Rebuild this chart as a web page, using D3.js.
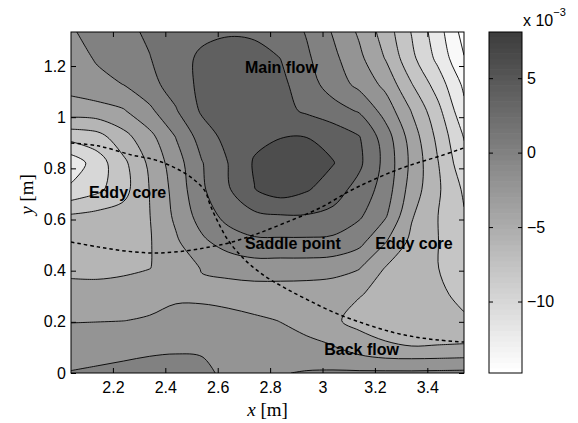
<!DOCTYPE html>
<html>
<head>
<meta charset="utf-8">
<script src="https://cdn.jsdelivr.net/npm/d3@7"></script>
<style>
  body { margin: 0; background: #fff; }
  text { font-family: "Liberation Sans", Arial, Helvetica, sans-serif; }
</style>
</head>
<body>
<svg id="chart" width="578" height="423"></svg>
<script>
// ---- grid coordinates (m) ----
const xGrid = [2.04, 2.14, 2.24, 2.34, 2.44, 2.54, 2.64, 2.74, 2.84, 2.94, 3.04, 3.14, 3.24, 3.34, 3.44, 3.54];
const yGrid = [1.333, 1.231, 1.128, 1.026, 0.923, 0.820, 0.718, 0.615, 0.513, 0.410, 0.308, 0.205, 0.103, 0];

// ---- field values (x 1e-3), one row per yGrid entry, top row first ----
const row00 = [-0.2, 0.7, 1.5, 2.3, 2.9, 3.5, 3.8, 3.6, 3.3, 1.85, -0.15, -2.3, -4.9, -8.1, -11.1, -14.8];
const row01 = [-1.0, 0.23, 1.08, 1.93, 3.14, 4.4, 4.9, 4.9, 3.98, 2.32, 0.5, -1.52, -4.1, -7.5, -10.5, -13.9];
const row02 = [-1.3, -0.65, 0.02, 1.37, 2.9, 4.5, 5.0, 5.0, 4.5, 2.86, 1.12, -0.53, -2.53, -5.9, -8.9, -12.4];
const row03 = [-2.9, -2.74, -2.17, -0.43, 1.83, 4.3, 5.0, 5.2, 4.6, 3.7, 2.8, 1.8, -0.8, -4.1, -7.4, -11.5];
const row04 = [-7.3, -6.8, -4.7, -2.6, 0.05, 2.9, 4.7, 5.5, 5.9, 5.95, 5.3, 4.1, 1.0, -2.9, -6.5, -10.1];
const row05 = [-11.3, -9.0, -6.5, -3.6, -0.9, 1.9, 4.02, 6.2, 7.6, 8.0, 6.1, 4.4, 1.4, -2.5, -5.9, -9.4];
const row06 = [-9.6, -8.5, -6.7, -3.95, -1.3, 1.7, 3.8, 5.95, 7.0, 6.2, 4.9, 3.3, 1.1, -2.9, -5.7, -8.3];
const row07 = [-5.8, -5.4, -5.2, -4.05, -1.6, 0.9, 2.7, 3.6, 3.9, 3.9, 3.5, 2.3, 0.25, -3.8, -5.98, -7.85];
const row08 = [-5.1, -4.8, -4.5, -4.15, -2.3, -0.4, 0.9, 1.6, 1.6, 1.6, 1.5, 0.6, -1.9, -4.5, -5.95, -7.7];
const row09 = [-4.4, -4.3, -4.3, -4.05, -3.0, -1.9, -1.4, -1.0, -1.0, -1.0, -1.2, -1.9, -4.1, -5.0, -5.95, -7.4];
const row10 = [-3.4, -3.6, -3.3, -2.6, -2.4, -2.4, -2.9, -3.0, -3.0, -3.1, -3.3, -3.9, -4.5, -5.0, -5.7, -6.4];
const row11 = [-2.1, -2.07, -2.02, -1.85, -1.3, -1.3, -1.2, -1.7, -2.05, -2.7, -3.7, -4.6, -4.7, -5.0, -5.3, -5.8];
const row12 = [-1.0, -0.8, -0.6, -0.4, -0.3, -0.3, -0.6, -0.9, -1.3, -1.5, -1.9, -3.0, -3.8, -3.97, -3.9, -3.76];
const row13 = [0.1, 0.3, 0.5, 0.7, 0.8, 0.5, -0.5, -0.4, -0.1, 0.15, 0.25, 0.3, 0.35, 0.35, 0.4, 0.45];
const fieldRows = [row00, row01, row02, row03, row04, row05, row06, row07, row08, row09, row10, row11, row12, row13];

// ---- contour levels, colour limits, ticks ----
const levels = [-14, -12, -10, -8, -6, -4, -2, 0, 2, 4, 6];
const colorLimits = [-14.8, 8.1];
const colorTicks = [-10, -5, 0, 5];
const xLim = [2.04, 3.54];
const yLim = [0, 1.333];
const xTicks = [2.2, 2.4, 2.6, 2.8, 3, 3.2, 3.4];
const yTicks = [0, 0.2, 0.4, 0.6, 0.8, 1, 1.2];

// ---- dividing streamlines (dashed) ----
const separatrixA = [[2.040, 0.899], [2.143, 0.888], [2.273, 0.852], [2.361, 0.833], [2.437, 0.802],
  [2.502, 0.762], [2.551, 0.712], [2.571, 0.657], [2.601, 0.590], [2.639, 0.520], [2.704, 0.442],
  [2.780, 0.379], [2.857, 0.332], [2.945, 0.285], [3.048, 0.235], [3.162, 0.192], [3.265, 0.160],
  [3.353, 0.141], [3.441, 0.129], [3.540, 0.121]];
const separatrixB = [[2.040, 0.512], [2.143, 0.493], [2.246, 0.477], [2.361, 0.469], [2.475, 0.477],
  [2.571, 0.493], [2.655, 0.512], [2.750, 0.544], [2.864, 0.590], [2.990, 0.645], [3.105, 0.712],
  [3.193, 0.755], [3.284, 0.794], [3.361, 0.821], [3.448, 0.848], [3.540, 0.880]];

// ---- annotations ----
const labelTexts = ["Main flow", "Eddy core", "Saddle point", "Eddy core", "Back flow"];
const labelX = [2.843, 2.256, 2.887, 3.349, 3.149];
const labelY = [1.173, 0.684, 0.485, 0.485, 0.072];

// ---------------------------------------------------------------
const svg = d3.select("#chart");
const plot = { left: 71, right: 464, top: 32, bottom: 373 };
const bar = { left: 489, right: 522 };

const x = d3.scaleLinear().domain(xLim).range([plot.left, plot.right]);
const y = d3.scaleLinear().domain(yLim).range([plot.bottom, plot.top]);
const cy = d3.scaleLinear().domain(colorLimits).range([plot.bottom, plot.top]);

// 64-step grey map, light for low values, dark for high values
const nColors = 64;
const darkest = 62;
function greyIndex(v) {
  let k = Math.floor((v - colorLimits[0]) / (colorLimits[1] - colorLimits[0]) * nColors);
  return Math.max(0, Math.min(nColors - 1, k));
}
function greyOf(k) {
  const g = Math.round(255 - k / (nColors - 1) * (255 - darkest));
  return `rgb(${g},${g},${g})`;
}
const cmap = v => greyOf(greyIndex(v));

// ---- contour geometry ----
const nx = xGrid.length, ny = yGrid.length;
const gdx = (xGrid[nx - 1] - xGrid[0]) / (nx - 1);
const gdy = (yGrid[ny - 1] - yGrid[0]) / (ny - 1);
const values = fieldRows.flat();
const bands = d3.contours().size([nx, ny]).thresholds(levels)(values);

const eps = 1e-9;
const clampGX = g => Math.max(0.5, Math.min(nx - 0.5, g));
const clampGY = g => Math.max(0.5, Math.min(ny - 0.5, g));
function edges(p) {
  const s = [];
  if (p[0] <= 0.5 + eps) s.push("L");
  if (p[0] >= nx - 0.5 - eps) s.push("R");
  if (p[1] <= 0.5 + eps) s.push("T");
  if (p[1] >= ny - 0.5 - eps) s.push("B");
  return s;
}
function onSameEdge(a, b) {
  const ea = edges(a), eb = edges(b);
  return ea.some(e => eb.includes(e));
}
function toPx(p) {
  return [x(xGrid[0] + (p[0] - 0.5) * gdx), y(yGrid[0] + (p[1] - 0.5) * gdy)];
}
const openCurve = d3.line().curve(d3.curveCatmullRom.alpha(0.5));
const closedCurve = d3.line().curve(d3.curveCatmullRomClosed.alpha(0.5));

function splitRing(ring) {
  let pts = ring.map(p => [clampGX(p[0]), clampGY(p[1])]);
  const f = pts[0], l = pts[pts.length - 1];
  if (f[0] === l[0] && f[1] === l[1]) pts = pts.slice(0, -1);
  const n = pts.length;
  const border = pts.map((p, i) => onSameEdge(p, pts[(i + 1) % n]));
  if (!border.some(Boolean)) return { closed: true, pts };
  const start = border.findIndex((b, i) => b && !border[(i - 1 + n) % n]);
  if (start < 0) return { allBorder: true, pts };
  const runs = [];
  let i = 0;
  while (i < n) {
    const k = (start + i) % n;
    const isB = border[k];
    const run = [pts[k]];
    while (i < n && border[(start + i) % n] === isB) {
      run.push(pts[(start + i + 1) % n]);
      i++;
    }
    runs.push({ border: isB, pts: run });
  }
  return { closed: false, runs };
}

function fillPath(multi) {
  let d = "";
  multi.coordinates.forEach(poly => poly.forEach(ring => {
    const r = splitRing(ring);
    if (r.closed) { d += closedCurve(r.pts.map(toPx)); return; }
    if (r.allBorder) { d += "M" + r.pts.map(toPx).join("L") + "Z"; return; }
    r.runs.forEach((run, idx) => {
      const p = run.pts.map(toPx);
      let s = run.border ? "M" + p.join("L") : openCurve(p);
      if (idx > 0) s = "L" + s.slice(1);
      d += s;
    });
    d += "Z";
  }));
  return d;
}
function linePath(multi) {
  let d = "";
  multi.coordinates.forEach(poly => poly.forEach(ring => {
    const r = splitRing(ring);
    if (r.closed) { d += closedCurve(r.pts.map(toPx)); return; }
    if (r.allBorder) return;
    r.runs.forEach(run => { if (!run.border) d += openCurve(run.pts.map(toPx)); });
  }));
  return d;
}

// ---- plot area ----
svg.append("defs").append("clipPath").attr("id", "plotClip")
  .append("rect")
  .attr("x", plot.left).attr("y", plot.top)
  .attr("width", plot.right - plot.left).attr("height", plot.bottom - plot.top);

const area = svg.append("g").attr("clip-path", "url(#plotClip)");
area.append("rect")
  .attr("x", plot.left).attr("y", plot.top)
  .attr("width", plot.right - plot.left).attr("height", plot.bottom - plot.top)
  .attr("fill", cmap(colorLimits[0]));

area.selectAll("path.band").data(bands).join("path")
  .attr("class", "band")
  .attr("d", fillPath)
  .attr("fill", d => cmap(d.value))
  .attr("fill-rule", "evenodd")
  .attr("stroke", "none");

area.selectAll("path.iso").data(bands).join("path")
  .attr("class", "iso")
  .attr("d", linePath)
  .attr("fill", "none")
  .attr("stroke", "#000")
  .attr("stroke-width", 0.9);

const sepLine = d3.line().x(d => x(d[0])).y(d => y(d[1])).curve(d3.curveCatmullRom.alpha(0.5));
[separatrixA, separatrixB].forEach(s => {
  area.append("path")
    .attr("d", sepLine(s))
    .attr("fill", "none")
    .attr("stroke", "#000")
    .attr("stroke-width", 1.5)
    .attr("stroke-dasharray", "3.5,3");
});

area.selectAll("text.note").data(labelTexts).join("text")
  .attr("class", "note")
  .attr("x", (d, i) => x(labelX[i]))
  .attr("y", (d, i) => y(labelY[i]))
  .attr("text-anchor", "middle")
  .attr("font-size", 16)
  .attr("font-weight", "bold")
  .attr("fill", "#000")
  .text(d => d);

// ---- axes ----
const fmt = d3.format("~g");
function styleAxis(g) {
  g.select(".domain").remove();
  g.selectAll(".tick line").attr("stroke", "#000");
  g.selectAll(".tick text").attr("font-size", 16).attr("fill", "#000")
    .style("font-family", "'Liberation Sans', Arial, sans-serif");
}
svg.append("g").attr("transform", `translate(0,${plot.bottom})`)
  .call(d3.axisBottom(x).tickValues(xTicks).tickFormat(fmt).tickSize(-5).tickPadding(9))
  .call(styleAxis);
svg.append("g").attr("transform", `translate(0,${plot.top})`)
  .call(d3.axisTop(x).tickValues(xTicks).tickFormat("").tickSize(-5))
  .call(styleAxis);
svg.append("g").attr("transform", `translate(${plot.left},0)`)
  .call(d3.axisLeft(y).tickValues(yTicks).tickFormat(fmt).tickSize(-5).tickPadding(5))
  .call(styleAxis);
svg.append("g").attr("transform", `translate(${plot.right},0)`)
  .call(d3.axisRight(y).tickValues(yTicks).tickFormat("").tickSize(-5))
  .call(styleAxis);

svg.append("rect")
  .attr("x", plot.left).attr("y", plot.top)
  .attr("width", plot.right - plot.left).attr("height", plot.bottom - plot.top)
  .attr("fill", "none").attr("stroke", "#000").attr("stroke-width", 1);

// axis titles
const xt = svg.append("text")
  .attr("x", (plot.left + plot.right) / 2).attr("y", 416)
  .attr("text-anchor", "middle")
  .style("font-family", "'Liberation Serif', 'Times New Roman', serif")
  .attr("font-size", 19);
xt.append("tspan").attr("font-style", "italic").text("x");
xt.append("tspan").text(" [m]");

const yt = svg.append("text")
  .attr("transform", `translate(33,${(plot.top + plot.bottom) / 2 - 8}) rotate(-90)`)
  .attr("text-anchor", "middle")
  .style("font-family", "'Liberation Serif', 'Times New Roman', serif")
  .attr("font-size", 19);
yt.append("tspan").attr("font-style", "italic").text("y");
yt.append("tspan").text(" [m]");

// ---- colour bar ----
const cb = svg.append("g");
const step = (colorLimits[1] - colorLimits[0]) / nColors;
cb.selectAll("rect.swatch").data(d3.range(nColors)).join("rect")
  .attr("class", "swatch")
  .attr("x", bar.left)
  .attr("width", bar.right - bar.left)
  .attr("y", k => cy(colorLimits[0] + (k + 1) * step))
  .attr("height", k => cy(colorLimits[0] + k * step) - cy(colorLimits[0] + (k + 1) * step) + 0.6)
  .attr("fill", k => greyOf(k));

cb.append("g").attr("transform", `translate(${bar.right},0)`)
  .call(d3.axisRight(cy).tickValues(colorTicks).tickSize(-4).tickPadding(5))
  .call(styleAxis);
cb.append("g").attr("transform", `translate(${bar.left},0)`)
  .call(d3.axisLeft(cy).tickValues(colorTicks).tickFormat("").tickSize(-4))
  .call(styleAxis);
cb.append("rect")
  .attr("x", bar.left).attr("y", plot.top)
  .attr("width", bar.right - bar.left).attr("height", plot.bottom - plot.top)
  .attr("fill", "none").attr("stroke", "#000").attr("stroke-width", 1);

const sc = svg.append("text").attr("x", 523).attr("y", 26).attr("font-size", 16).attr("fill", "#000");
sc.append("tspan").text("x 10");
sc.append("tspan").attr("font-size", 11).attr("dy", -10).text("\u22123");
</script>
</body>
</html>
